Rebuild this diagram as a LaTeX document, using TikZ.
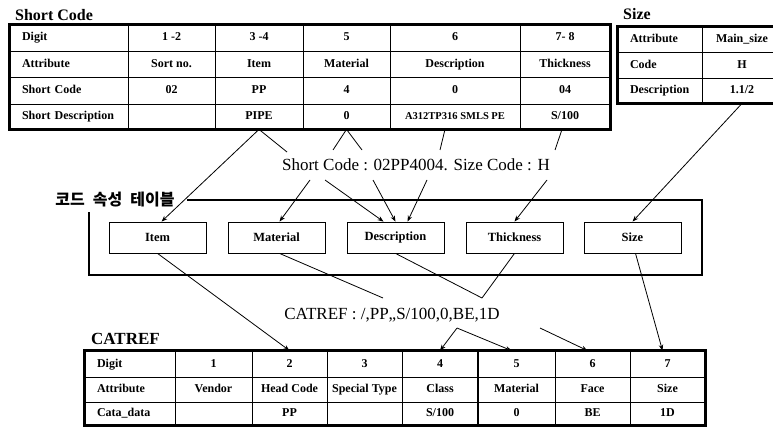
\documentclass[tikz,border=0pt]{standalone}
\usepackage{fontspec}
\setmainfont{Liberation Serif}
\newfontfamily\kofont{Noto Sans CJK KR}
\usetikzlibrary{arrows.meta}
\tikzset{
  cellbox/.style={draw, line width=0.8pt, inner sep=0pt, text height=8.5pt, text depth=2.5pt, font=\bfseries\fontsize{12}{13}\selectfont},
  border/.style={line width=2.4pt},
  framebox/.style={line width=2.6pt},
  ibox/.style={draw, line width=0.8pt, minimum width=97pt, minimum height=31pt, inner sep=0pt, font=\bfseries\fontsize{12.5}{13}\selectfont},
  ttl/.style={anchor=base west, inner sep=0pt, font=\bfseries\fontsize{16}{17}\selectfont},
  bigtext/.style={inner sep=0pt, font=\fontsize{17}{18}\selectfont},
  conn/.style={line width=0.8pt},
  arr/.style={conn, -{Stealth[length=6pt,width=4.5pt]}}
}
\newcommand\tcell[6]{%
  \pgfmathsetmacro\cw{#4-#2}\pgfmathsetmacro\ch{#5-#3}%
  \node[cellbox, minimum width=\cw pt, minimum height=\ch pt] (#1) at ({(#2+#4)/2},{(#3+#5)/2}) {#6};}
\newcommand\lcell[6]{%
  \pgfmathsetmacro\cw{#4-#2-24}\pgfmathsetmacro\ch{#5-#3}%
  \node[cellbox, text width=\cw pt, inner xsep=12pt, align=left, minimum height=\ch pt] (#1) at ({(#2+#4)/2},{(#3+#5)/2}) {#6};}
\begin{document}
\begin{tikzpicture}[x=1pt,y=-1pt]
\useasboundingbox (0,0) rectangle (773,428);
\fill[white] (0,0) rectangle (773,428);

% ---------- Short Code table ----------
\node[ttl] (sctitle) at (15,21) {Short Code};
\lcell{sc1c0}{10}{25}{128}{51}{Digit}
\tcell{sc1c1}{128}{25}{215}{51}{1 -2}
\tcell{sc1c2}{215}{25}{303}{51}{3 -4}
\tcell{sc1c3}{303}{25}{390}{51}{5}
\tcell{sc1c4}{390}{25}{520}{51}{6}
\tcell{sc1c5}{520}{25}{610}{51}{7- 8}
\lcell{sc2c0}{10}{51}{128}{77}{Attribute}
\tcell{sc2c1}{128}{51}{215}{77}{Sort no.}
\tcell{sc2c2}{215}{51}{303}{77}{Item}
\tcell{sc2c3}{303}{51}{390}{77}{Material}
\tcell{sc2c4}{390}{51}{520}{77}{Description}
\tcell{sc2c5}{520}{51}{610}{77}{Thickness}
\lcell{sc3c0}{10}{77}{128}{104}{Short Code}
\tcell{sc3c1}{128}{77}{215}{104}{02}
\tcell{sc3c2}{215}{77}{303}{104}{PP}
\tcell{sc3c3}{303}{77}{390}{104}{4}
\tcell{sc3c4}{390}{77}{520}{104}{0}
\tcell{sc3c5}{520}{77}{610}{104}{04}
\lcell{sc4c0}{10}{104}{128}{129}{Short Description}
\tcell{sc4c1}{128}{104}{215}{129}{}
\tcell{sc4c2}{215}{104}{303}{129}{PIPE}
\tcell{sc4c3}{303}{104}{390}{129}{0}
\tcell{sc4c4}{390}{104}{520}{129}{\fontsize{10.5}{11}\selectfont A312TP316 SMLS PE}
\tcell{sc4c5}{520}{104}{610}{129}{S/100}
\draw[border] (sc1c0.north west) rectangle (sc4c5.south east);

% ---------- Size table ----------
\node[ttl] (sztitle) at (623,20) {Size};
\lcell{sz1c0}{618}{27}{702}{52}{Attribute}
\tcell{sz1c1}{702}{27}{782}{52}{Main\_size}
\lcell{sz2c0}{618}{52}{702}{78}{Code}
\tcell{sz2c1}{702}{52}{782}{78}{H}
\lcell{sz3c0}{618}{78}{702}{103}{Description}
\tcell{sz3c1}{702}{78}{782}{103}{1.1/2}
\draw[border] (sz1c0.north west) rectangle (sz3c1.south east);

% ---------- middle ----------
\node[bigtext] (sctext) at (416,165) {Short Code : 02PP4004. Size Code : H};
\node[inner sep=0pt, font=\kofont\bfseries\fontsize{16}{17}\selectfont] (kotitle) at (115,200) {코드\hspace{8pt}속성\hspace{8pt}테이블};
\draw[framebox] (187,200) -- (702,200) -- (702,275) -- (89,275) -- (89,212);
\node[ibox] (item) at (157.5,237.5) {Item};
\node[ibox] (material) at (276.5,237.5) {Material};
\node[ibox] (descr) at (395.5,237.5) {Description};
\node[ibox] (thick) at (514.5,237.5) {Thickness};
\node[ibox] (sizebox) at (632.5,237.5) {Size};
\node[bigtext] (cattext) at (392,315) {CATREF : /,PP,,S/100,0,BE,1D};

% ---------- CATREF table ----------
\node[ttl, font=\bfseries\fontsize{17}{18}\selectfont] (cattitle) at (91,344) {CATREF};
\lcell{ct1c0}{85}{351}{175}{377}{Digit}
\tcell{ct1c1}{175}{351}{252}{377}{1}
\tcell{ct1c2}{252}{351}{327}{377}{2}
\tcell{ct1c3}{327}{351}{402}{377}{3}
\tcell{ct1c4}{402}{351}{478}{377}{4}
\tcell{ct1c5}{478}{351}{555}{377}{5}
\tcell{ct1c6}{555}{351}{630}{377}{6}
\tcell{ct1c7}{630}{351}{705}{377}{7}
\lcell{ct2c0}{85}{377}{175}{402}{Attribute}
\tcell{ct2c1}{175}{377}{252}{402}{Vendor}
\tcell{ct2c2}{252}{377}{327}{402}{Head Code}
\tcell{ct2c3}{327}{377}{402}{402}{Special Type}
\tcell{ct2c4}{402}{377}{478}{402}{Class}
\tcell{ct2c5}{478}{377}{555}{402}{Material}
\tcell{ct2c6}{555}{377}{630}{402}{Face}
\tcell{ct2c7}{630}{377}{705}{402}{Size}
\lcell{ct3c0}{85}{402}{175}{425}{Cata\_data}
\tcell{ct3c1}{175}{402}{252}{425}{}
\tcell{ct3c2}{252}{402}{327}{425}{PP}
\tcell{ct3c3}{327}{402}{402}{425}{}
\tcell{ct3c4}{402}{402}{478}{425}{S/100}
\tcell{ct3c5}{478}{402}{555}{425}{0}
\tcell{ct3c6}{555}{402}{630}{425}{BE}
\tcell{ct3c7}{630}{402}{705}{425}{1D}
\draw[border] (ct1c0.north west) rectangle (ct3c7.south east);
\draw[line width=1.6pt] (ct1c5.north west) -- (ct3c5.south west);

% ---------- connector ends ----------
\coordinate (a1) at (287,152);
\coordinate (a2) at (333,150);
\coordinate (a3) at (362,150);
\coordinate (a4) at (440,150);
\coordinate (a5) at (555,150);
\coordinate (b1) at (310,180);
\coordinate (b2) at (325,180);
\coordinate (b3) at (373,180);
\coordinate (b4) at (427,180);
\coordinate (b5) at (547,180);
\coordinate (c1) at (383,298);
\coordinate (c2) at (482,298);
\coordinate (d1) at (457,328);
\coordinate (d2) at (540,328);

% ---------- connectors ----------
\draw[arr] (sc4c2.south) -- ([xshift=4pt]item.north);
\draw[conn] (sc4c2.south) -- (a1);
\draw[conn] (sc4c3.south) -- (a2);
\draw[conn] (sc4c3.south) -- (a3);
\draw[conn] ([xshift=-10pt]sc4c4.south) -- (a4);
\draw[conn] ([xshift=-3pt]sc4c5.south) -- (a5);
\draw[arr] (sz3c1.south) -- (sizebox.north);
\draw[arr] (b1) -- ([xshift=3pt]material.north);
\draw[arr] (b2) -- ([xshift=-12pt]descr.north);
\draw[arr] (b3) -- (descr.north);
\draw[arr] (b4) -- ([xshift=12pt]descr.north);
\draw[arr] (b5) -- (thick.north);
\draw[arr] (item.south) -- (ct1c2.north);
\draw[conn] ([xshift=3pt]material.south) -- (c1);
\draw[conn] (descr.south) -- (c2);
\draw[conn] (thick.south) -- (c2);
\draw[arr] ([xshift=3pt]sizebox.south) -- ([xshift=-5pt]ct1c7.north);
\draw[arr] (d1) -- (ct1c4.north);
\draw[arr] (d1) -- ([xshift=-5pt]ct1c5.north);
\draw[arr] (d2) -- ([xshift=-5pt]ct1c6.north);
\end{tikzpicture}
\end{document}
